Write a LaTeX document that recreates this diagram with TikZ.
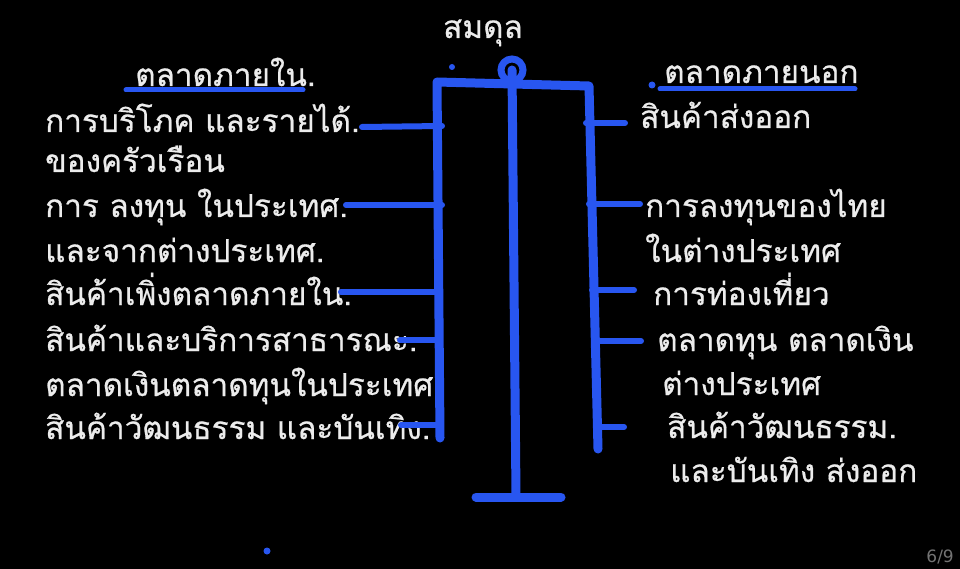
\documentclass[tikz,border=0pt]{standalone}
\usepackage{fontspec}
\newfontfamily\thaifont[Script=Thai,FakeBold=0.6]{Loma}
\newfontfamily\pagefont{DejaVu Sans}
\definecolor{pen}{RGB}{40,86,240}
\definecolor{ink}{RGB}{236,236,236}
\begin{document}
\begin{tikzpicture}[x=1pt,y=-1pt,
  txt/.style={font=\thaifont\fontsize{31.5}{36}\selectfont, text=ink, anchor=base west, inner sep=0pt},
  bar/.style={draw=pen, line width=9pt, line cap=round, line join=round},
  tick/.style={draw=pen, line width=6pt, line cap=round},
  uline/.style={draw=pen, line width=5pt, line cap=round},
  pdot/.style={fill=pen, circle, inner sep=0pt, minimum size=7pt}]
\fill[black] (0,0) rectangle (960,569);
\useasboundingbox (0,0) rectangle (960,569);

% title and headings
\node[txt, anchor=base] (title) at (483,38) {สมดุล};
\node[txt] (hin) at (135,86) {ตลาดภายใน.};
\node[txt] (hout) at (664,83) {ตลาดภายนอก};
\coordinate (uinA) at (126,90); \coordinate (uinB) at (303,90);
\coordinate (uoutA) at (660,89); \coordinate (uoutB) at (855,89);
\draw[uline] (uinA) -- (uinB);
\draw[uline] (uoutA) -- (uoutB);

% left texts
\node[txt] (l1) at (45,132) {การบริโภค และรายได้.};
\node[txt] (l2) at (45,172) {ของครัวเรือน};
\node[txt] (l3) at (45,217) {การ ลงทุน ในประเทศ.};
\node[txt] (l4) at (45,262) {และจากต่างประเทศ.};
\node[txt] (l5) at (45,305) {สินค้าเพิ่งตลาดภายใน.};
\node[txt] (l6) at (45,351) {สินค้าและบริการสาธารณะ.};
\node[txt] (l7) at (45,396) {ตลาดเงินตลาดทุนในประเทศ};
\node[txt] (l8) at (45,439) {สินค้าวัฒนธรรม และบันเทิง.};

% right texts
\node[txt] (r1) at (640,128) {สินค้าส่งออก};
\node[txt] (r2) at (645,217) {การลงทุนของไทย};
\node[txt] (r3) at (645,262) {ในต่างประเทศ};
\node[txt] (r4) at (653,305) {การท่องเที่ยว};
\node[txt] (r5) at (657,351) {ตลาดทุน ตลาดเงิน};
\node[txt] (r6) at (662,395) {ต่างประเทศ};
\node[txt] (r7) at (667,438) {สินค้าวัฒนธรรม.};
\node[txt] (r8) at (670,482) {และบันเทิง ส่งออก};

% balance frame
\coordinate (lt) at (437,82);
\coordinate (lb) at (440,438);
\coordinate (rt) at (589,86);
\coordinate (rb) at (598,449);
\coordinate (pt) at (512,70);
\coordinate (pb) at (516,496);
\coordinate (bA) at (476,497);
\coordinate (bB) at (561,497);
\draw[bar] (lb) -- (lt) -- (rt) -- (rb);
\draw[bar] (pt) -- (pb);
\draw[bar] (bA) -- (bB);
\draw[draw=pen, line width=7pt] (pt) circle[radius=11pt];

% left ticks
\coordinate (a1) at (362,127); \coordinate (b1) at (442,126);
\coordinate (a2) at (346,205); \coordinate (b2) at (442,205);
\coordinate (a3) at (341,292); \coordinate (b3) at (440,292);
\coordinate (a4) at (400,340); \coordinate (b4) at (440,340);
\coordinate (a5) at (401,425); \coordinate (b5) at (440,425);
\foreach \i in {1,...,5} \draw[tick] (a\i) -- (b\i);

% right ticks
\coordinate (c1) at (586,123); \coordinate (d1) at (625,123);
\coordinate (c2) at (589,204); \coordinate (d2) at (640,204);
\coordinate (c3) at (592,290); \coordinate (d3) at (634,290);
\coordinate (c4) at (595,341); \coordinate (d4) at (641,341);
\coordinate (c5) at (596,427); \coordinate (d5) at (624,427);
\foreach \i in {1,...,5} \draw[tick] (c\i) -- (d\i);

% dots
\node[pdot, minimum size=6pt] (dot1) at (452,67) {};
\node[pdot] (dot2) at (652,85) {};
\node[pdot] (dot3) at (267,551) {};

% page number
\node[font=\pagefont\fontsize{17}{20}\selectfont, text=black!55!white, anchor=base east, inner sep=0pt] (pg) at (954,562) {6/9};
\end{tikzpicture}
\end{document}
